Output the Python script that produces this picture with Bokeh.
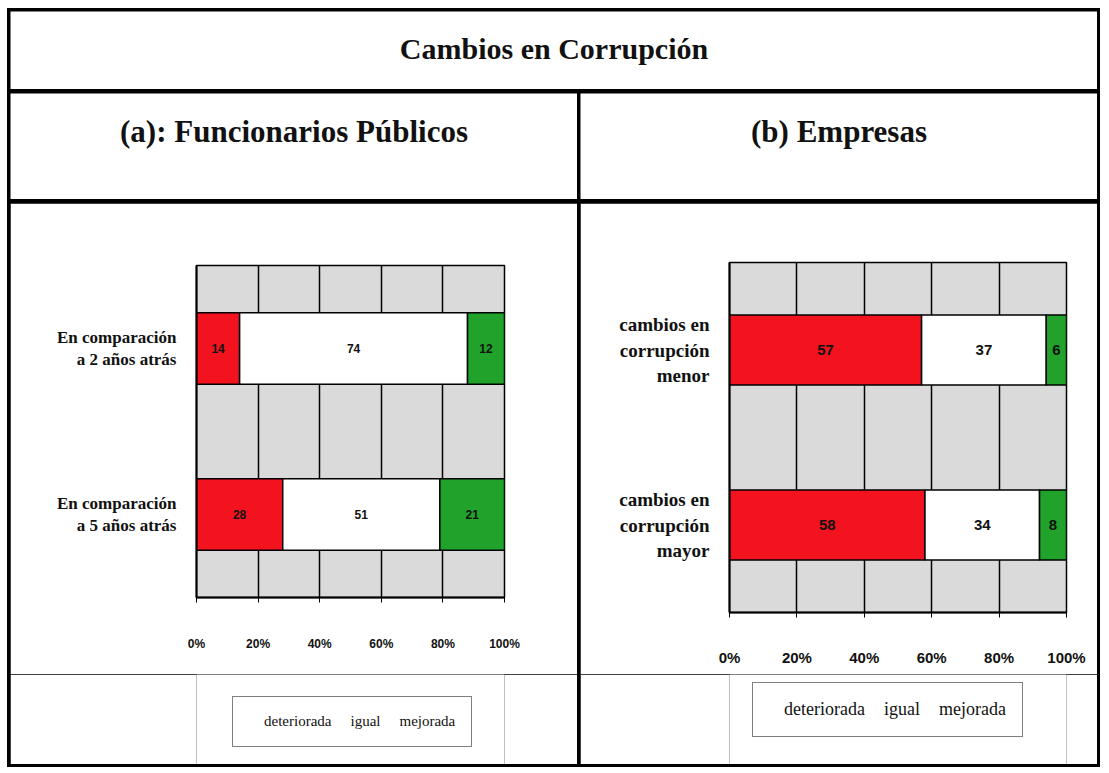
from bokeh.plotting import figure
from bokeh.models import (Range1d, FactorRange, FixedTicker, Label, LabelSet,
                          ColumnDataSource, Legend, LegendItem)
from bokeh.core.properties import value
from bokeh.layouts import row, column
from bokeh.embed import file_html
from bokeh.resources import INLINE
import numpy as np

# ---------------- data ----------------
main_title = "Cambios en Corrupción"
subtitle_a = "(a): Funcionarios Públicos"
subtitle_b = "(b) Empresas"

series = ["deteriorada", "igual", "mejorada"]
colors = ["#f2131f", "#ffffff", "#21a32b"]

cats_a = ["En comparación\na 2 años atrás", "En comparación\na 5 años atrás"]
det_a = [14, 28]
igual_a = [74, 51]
mej_a = [12, 21]

cats_b = ["cambios en\ncorrupción\nmenor", "cambios en\ncorrupción\nmayor"]
det_b = [57, 58]
igual_b = [37, 34]
mej_b = [6, 8]

tick_values = [0, 20, 40, 60, 80, 100]
tick_labels = ["0%", "20%", "40%", "60%", "80%", "100%"]

SERIF = "Liberation Serif"
SANS = "Liberation Sans"


def blank(width, height, left=0, right=0):
    p = figure(width=width, height=height, x_range=Range1d(0, 1), y_range=Range1d(0, 1),
               x_axis_type=None, y_axis_type=None, toolbar_location=None,
               output_backend="svg", min_border_left=left, min_border_right=right,
               min_border_top=0, min_border_bottom=0)
    p.grid.visible = False
    p.outline_line_color = None
    p.background_fill_color = "white"
    p.border_fill_color = "white"
    return p


def text_cell(text, width, height, y_frac, size):
    p = blank(width, height)
    p.add_layout(Label(x=0.5, y=y_frac, text=text, text_align="center",
                       text_baseline="middle", text_font=SERIF,
                       text_font_style="bold", text_font_size=size, text_color="#111111"))
    return p


def legend_cell(width, height, borders, loc, size):
    p = blank(width, height, borders[0], borders[1])
    rs = []
    for c in colors:
        src = ColumnDataSource(dict(y=[], left=[], right=[]))
        rs.append(p.hbar(y="y", left="left", right="right", height=0.5, source=src,
                         fill_color=c, line_color="black", line_width=1.5))
    leg = Legend(items=[LegendItem(label=s, renderers=[r]) for s, r in zip(series, rs)],
                 orientation="horizontal", location=loc)
    leg.label_text_font = SERIF
    leg.label_text_font_size = size
    leg.label_text_color = "#111111"
    leg.glyph_width = 12
    leg.glyph_height = 12
    leg.label_standoff = 3
    leg.spacing = 4
    leg.padding = 16
    leg.margin = 0
    leg.border_line_color = "black"
    leg.border_line_width = 1.5
    leg.background_fill_color = "white"
    leg.background_fill_alpha = 1
    p.add_layout(leg)
    return p


def chart(cats, det, igual, mej, width, height, borders, bar_h, cat_size,
          tick_size, val_size, standoff):
    vals = np.array([det, igual, mej], dtype=float)
    rights = np.cumsum(vals, axis=0)
    lefts = rights - vals
    p = figure(width=width, height=height, y_range=FactorRange(*list(reversed(cats))),
               x_range=Range1d(0, 100), toolbar_location=None, output_backend="svg",
               min_border_left=borders[0], min_border_right=borders[1],
               min_border_top=borders[2], min_border_bottom=borders[3])
    p.background_fill_color = "#dadada"
    p.border_fill_color = "white"
    p.outline_line_color = "black"
    p.outline_line_width = 1.5
    for i, s in enumerate(series):
        src = ColumnDataSource(dict(y=list(cats), left=list(lefts[i]), right=list(rights[i])))
        p.hbar(y="y", left="left", right="right", height=bar_h, source=src,
               fill_color=colors[i], line_color="black", line_width=1.5)
    mids = (lefts + rights) / 2
    lab = ColumnDataSource(dict(
        x=list(mids.ravel()),
        y=list(cats) * 3,
        t=[str(int(v)) for v in vals.ravel()]))
    p.add_layout(LabelSet(x="x", y="y", text="t", source=lab,
                          text_align=value("center"), text_baseline=value("middle"),
                          text_font=value(SANS), text_font_style=value("bold"),
                          text_font_size=value(val_size), text_color=value("#111111")))
    p.xgrid.ticker = FixedTicker(ticks=tick_values)
    p.xgrid.grid_line_color = "black"
    p.xgrid.grid_line_width = 1.5
    p.ygrid.visible = False
    p.xaxis.ticker = FixedTicker(ticks=tick_values)
    p.xaxis.major_label_overrides = {v: l for v, l in zip(tick_values, tick_labels)}
    p.xaxis.major_label_text_font = SANS
    p.xaxis.major_label_text_font_style = "bold"
    p.xaxis.major_label_text_font_size = tick_size
    p.xaxis.major_label_text_color = "#111111"
    p.xaxis.major_label_standoff = standoff
    p.xaxis.axis_line_width = 2
    p.xaxis.major_tick_out = 5
    p.xaxis.major_tick_in = 0
    p.xaxis.minor_tick_out = 0
    p.yaxis.axis_line_width = 2
    p.yaxis.major_tick_out = 0
    p.yaxis.major_tick_in = 0
    p.yaxis.major_label_text_font = SERIF
    p.yaxis.major_label_text_font_style = "bold"
    p.yaxis.major_label_text_font_size = cat_size
    p.yaxis.major_label_text_color = "#111111"
    p.yaxis.major_label_standoff = 20
    return p


title_fig = text_cell(main_title, 1087, 78, 0.52, "30px")
sub_a = text_cell(subtitle_a, 567, 106, 0.64, "31px")
sub_b = text_cell(subtitle_b, 517, 106, 0.64, "31px")

chart_a = chart(cats_a, det_a, igual_a, mej_a, 567, 471, (186, 73, 62, 77), 0.43,
                "17px", "12px", "12px", 34)
chart_b = chart(cats_b, det_b, igual_b, mej_b, 517, 471, (149, 31, 59, 62), 0.40,
                "19px", "15px", "15px", 31)
leg_a = legend_cell(567, 90, (186, 73), (36, 17), "15px")
leg_b = legend_cell(517, 90, (149, 31), (23, 27), "18px")

layout = column(title_fig,
                row(sub_a, sub_b, spacing=3),
                row(column(chart_a, leg_a), column(chart_b, leg_b), spacing=3),
                spacing=4,
                styles={"background-color": "black", "padding": "3px",
                        "margin-left": "7px", "margin-top": "8px"})

open("out.html", "w").write(file_html(layout, INLINE))
